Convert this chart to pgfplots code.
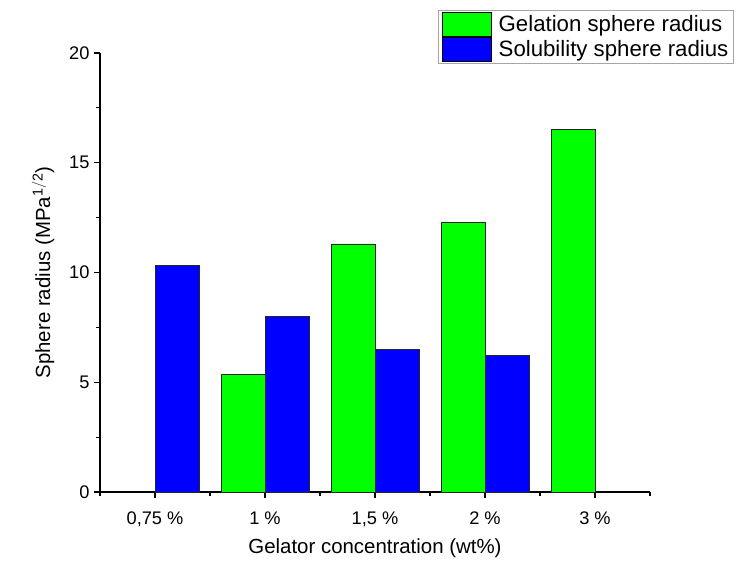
\documentclass[border=0pt]{standalone}
\usepackage{pgfplots}
\pgfplotsset{compat=1.18}
\usepackage{fontspec}
\setmainfont{Liberation Sans}
\definecolor{gbar}{RGB}{0,255,0}
\definecolor{bbar}{RGB}{0,0,255}
\begin{document}
\begin{tikzpicture}
\begin{axis}[
  name=ax,
  scale only axis,
  width=550bp, height=439bp,
  xmin=-0.5, xmax=4.5,
  ymin=0, ymax=20,
  axis x line*=bottom,
  axis y line*=left,
  axis line style={line width=1.2bp},
  tick style={line width=1.2bp, black},
  tick align=outside,
  major tick length=6bp,
  minor tick length=4bp,
  xtick={0,1,2,3,4},
  xticklabels={{0,75 \%},{1 \%},{1,5 \%},{2 \%},{3 \%}},
  minor xtick={-0.5,0.5,1.5,2.5,3.5,4.5},
  ytick={0,5,10,15,20},
  minor ytick={2.5,7.5,12.5,17.5},
  /pgf/number format/assume math mode=true,
  tick label style={font=\fontsize{18.3}{21}\selectfont},
  xticklabel style={yshift=-10bp},
  yticklabel style={xshift=-1bp},
  xlabel={Gelator concentration (wt\%)},
  ylabel={Sphere radius (MPa$^{\mathrm{1/2}}$)},
  label style={font=\fontsize{20.5}{24}\selectfont},
  xlabel style={yshift=-5bp},
  ylabel style={yshift=8bp},
  legend style={at={(0.6145,1.098)}, anchor=north west, draw=gray!70, line width=0.8bp,
    font=\fontsize{22.3}{25}\selectfont, inner xsep=4bp, inner ysep=1.5bp, row sep=0bp,
    column sep=5bp,
    nodes={inner sep=1.5bp}},
  legend cell align=left,
  legend image code/.code={\draw[#1, draw=black, line width=0.8bp] (0bp,-12bp) rectangle (49bp,12bp);},
]
\addplot[ybar, bar width=0.4, bar shift=-0.2, fill=gbar, draw=black!85, line width=0.9bp]
  coordinates {(1,5.35) (2,11.3) (3,12.3) (4,16.5)};
\addlegendentry{Gelation sphere radius}
\addplot[ybar, bar width=0.4, bar shift=0.2, fill=bbar, draw=black!85, line width=0.9bp]
  coordinates {(0,10.3) (1,8.0) (2,6.5) (3,6.2)};
\addlegendentry{Solubility sphere radius}
\end{axis}
\pgfresetboundingbox
\useasboundingbox ([shift={(-100bp,-69bp)}]ax.south west) rectangle ([shift={(86bp,53bp)}]ax.north east);
\end{tikzpicture}
\end{document}
